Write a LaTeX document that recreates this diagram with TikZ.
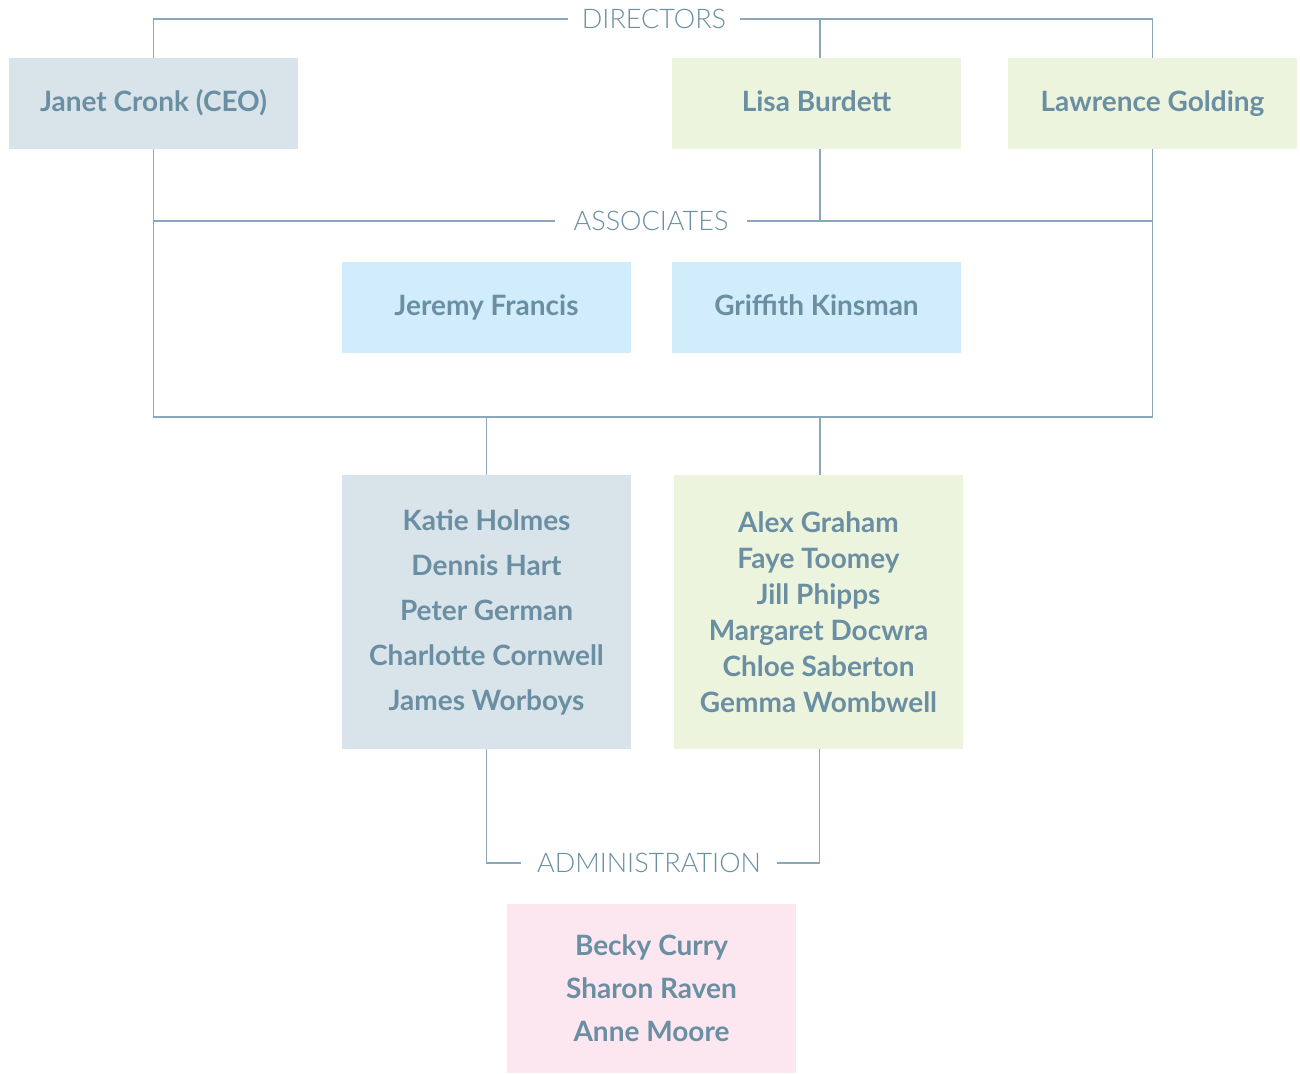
\documentclass[tikz,border=0pt]{standalone}
\usepackage{fontspec}
\setmainfont{Lato}
\newfontfamily\headfont{Lato Light}
\definecolor{txt}{HTML}{6A8FA3}
\definecolor{ln}{HTML}{8AA8BA}
\definecolor{fgrey}{HTML}{D8E3EA}
\definecolor{fgreen}{HTML}{EDF4DE}
\definecolor{fblue}{HTML}{D1ECFB}
\definecolor{fpink}{HTML}{FCE6EF}
\begin{document}
\begin{tikzpicture}[x=1pt,y=-1pt,
  box/.style={rectangle, minimum width=289pt, minimum height=91pt, inner sep=0pt,
    text=txt, align=center, font=\bfseries\fontsize{28}{32}\selectfont},
  single/.style={text height=21pt, text depth=6pt},
  head/.style={fill=white, inner xsep=14pt, inner ysep=2pt, text=txt,
    font=\headfont\fontsize{27}{30}\selectfont},
  conn/.style={draw=ln, line width=1.2pt}]
\useasboundingbox (0,0) rectangle (1300,1073);
% boxes
\node[box, single, fill=fgrey] (janet) at (153.5,103.5) {Janet Cronk (CEO)};
\node[box, single, fill=fgreen] (lisa) at (816.5,103.5) {Lisa Burdett};
\node[box, single, fill=fgreen] (lawrence) at (1152.5,103.5) {Lawrence Golding};
\node[box, single, fill=fblue] (jeremy) at (486.5,307.5) {Jeremy Francis};
\node[box, single, fill=fblue] (griffith) at (816.5,307.5) {Griffith Kinsman};
\node[box, fill=fgrey, minimum height=274pt,
  font=\bfseries\fontsize{28}{45}\selectfont] (groupA) at (486.5,612)
  {Katie Holmes\\Dennis Hart\\Peter German\\Charlotte Cornwell\\James Worboys};
\node[box, fill=fgreen, minimum height=274pt,
  font=\bfseries\fontsize{28}{36}\selectfont] (groupB) at (818.5,612)
  {Alex Graham\\Faye Toomey\\Jill Phipps\\Margaret Docwra\\Chloe Saberton\\Gemma Wombwell};
\node[box, fill=fpink, minimum height=169pt,
  font=\bfseries\fontsize{28}{43}\selectfont] (admin) at (651.5,988.5)
  {Becky Curry\\Sharon Raven\\Anne Moore};
% connectors
\coordinate (bar) at (0,417);
\draw[conn] (janet.north) |- (lawrence.north |- 0,19) -- (lawrence.north);
\draw[conn] ([xshift=3.5pt]lisa.north) -- ([xshift=3.5pt]lisa.north |- 0,19);
\draw[conn] (janet.south) |- (lawrence.south |- bar) -- (lawrence.south);
\draw[conn] (janet.south |- 0,221) -- (lawrence.south |- 0,221);
\draw[conn] ([xshift=3.5pt]lisa.south) -- ([xshift=3.5pt]lisa.south |- 0,221);
\draw[conn] (groupA.north) -- (groupA.north |- bar);
\draw[conn] ([xshift=1.5pt]groupB.north) -- ([xshift=1.5pt]groupB.north |- bar);
% headings
\node[head] (dirs) at (654,19) {DIRECTORS};
\node[head, inner xsep=19pt] (assoc) at (651,221) {ASSOCIATES};
\node[head, inner xsep=16pt] (adminh) at (649,863) {ADMINISTRATION};
\draw[conn] (groupA.south) |- (adminh.west);
\draw[conn] (adminh.east) -| ([xshift=1pt]groupB.south);
\end{tikzpicture}
\end{document}
